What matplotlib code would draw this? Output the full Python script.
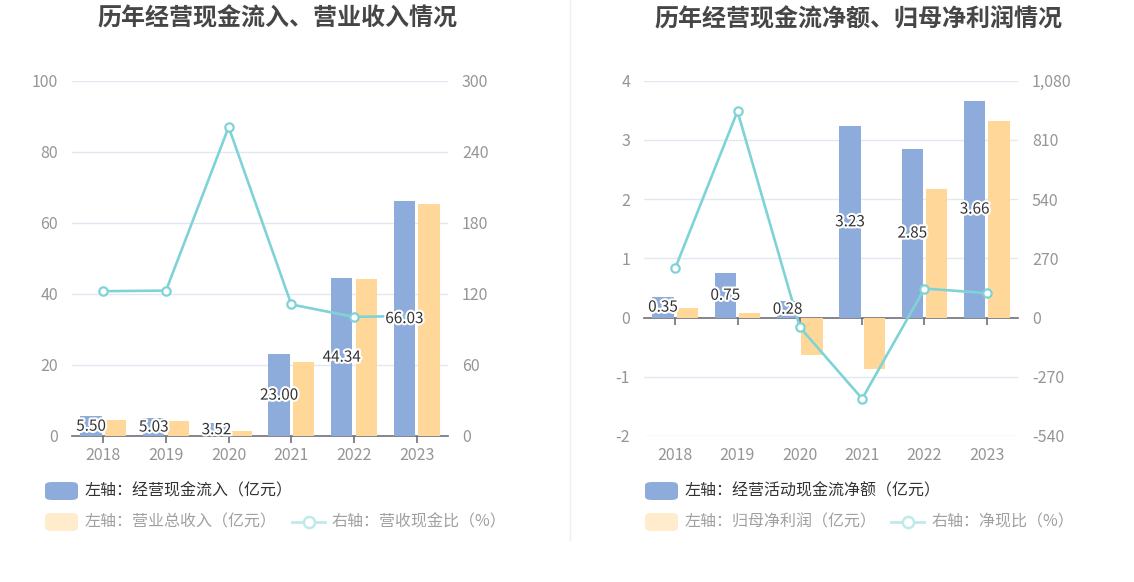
import numpy as np
import matplotlib
matplotlib.use('Agg')
import matplotlib.pyplot as plt
import matplotlib.patheffects as pe
from matplotlib.patches import FancyBboxPatch
from matplotlib.lines import Line2D
from matplotlib.ticker import FuncFormatter

plt.rcParams['font.family'] = ['Noto Sans CJK SC', 'DejaVu Sans']

years = ['2018', '2019', '2020', '2021', '2022', '2023']

# left chart: cash inflow, total revenue (亿元), ratio (%)
cash_in = [5.50, 5.03, 3.52, 23.00, 44.34, 66.03]
revenue = [4.50, 4.10, 1.35, 20.72, 44.12, 65.12]
rev_cash_ratio = [122.2, 122.7, 260.7, 111.0, 100.5, 101.4]

# right chart: net operating cash flow, net profit (亿元), ratio (%)
net_cash = [0.35, 0.75, 0.28, 3.23, 2.85, 3.66]
net_profit = [0.16, 0.08, -0.63, -0.87, 2.17, 3.32]
net_cash_ratio = [224, 940, -44, -370, 132, 111]

BLUE = '#8eacdb'
ORANGE = '#ffd899'
LINE = '#7fd3d7'
GRID = '#e3e7f1'
TICK = '#959595'
AXIS = '#6e7079'
LABEL_FX = [pe.withStroke(linewidth=3, foreground='white')]


def draw_panel(ax, bars1, bars2, ratio, ylim, yticks, rlim, rticks):
    x = np.arange(len(years))
    w = 0.34
    ax.bar(x - 0.195, bars1, w, color=BLUE, zorder=2)
    ax.bar(x + 0.195, bars2, w, color=ORANGE, zorder=2)

    ax.set_xlim(-0.5, len(years) - 0.5)
    ax.set_ylim(*ylim)
    ax.set_yticks(yticks)
    ax.set_yticklabels([str(t) for t in yticks])
    for t in yticks:
        if t != 0:
            ax.axhline(t, color=GRID, lw=1, zorder=0)
    for s in ax.spines.values():
        s.set_visible(False)
    ax.tick_params(axis='y', length=0, pad=10, labelsize=11.5, labelcolor=TICK)
    ax.set_xticks(x)
    ax.set_xticklabels(years)
    ax.tick_params(axis='x', length=0, pad=8, labelsize=11.5, labelcolor=TICK)

    # axis line at zero with small ticks
    loc = (0 - ylim[0]) / (ylim[1] - ylim[0])
    sec = ax.secondary_xaxis(loc)
    sec.spines['bottom'].set_color(AXIS)
    sec.spines['bottom'].set_linewidth(1.2)
    sec.set_xticks(x)
    sec.set_xticklabels([])
    sec.tick_params(axis='x', length=5, width=1.2, color=AXIS, direction='out')

    # ratio line on the right axis, drawn above the bars
    ax2 = ax.twinx()
    ax2.plot(x, ratio, color=LINE, lw=1.9, marker='o', markersize=6,
             markerfacecolor='white', markeredgecolor=LINE, markeredgewidth=1.6,
             zorder=5)
    ax2.set_ylim(*rlim)
    ax2.set_yticks(rticks)
    ax2.yaxis.set_major_formatter(FuncFormatter(lambda v, p: f'{v:,.0f}'))
    for s in ax2.spines.values():
        s.set_visible(False)
    ax2.tick_params(axis='y', length=0, pad=10, labelsize=11.5, labelcolor=TICK)
    ax2.set_zorder(ax.get_zorder() + 1)
    ax2.patch.set_visible(False)

    # value labels in the middle of the blue bars (on the top axes)
    for xi, v in zip(x, bars1):
        disp = ax.transData.transform((xi - 0.195, v / 2))
        xx, yy = ax2.transData.inverted().transform(disp)
        ax2.text(xx, yy, f'{v:.2f}', ha='center', va='center', fontsize=11,
                 color='#333333', zorder=10, path_effects=LABEL_FX)
    return ax2


fig = plt.figure(figsize=(11.34, 5.82), dpi=100)
W, H = 1134, 582

axl = fig.add_axes([72 / W, 1 - 436 / H, 376 / W, 355.5 / H])
axr = fig.add_axes([644 / W, 1 - 436 / H, 374 / W, 355.5 / H])

draw_panel(axl, cash_in, revenue, rev_cash_ratio, (0, 100),
           [0, 20, 40, 60, 80, 100], (0, 300), [0, 60, 120, 180, 240, 300])
draw_panel(axr, net_cash, net_profit, net_cash_ratio, (-2, 4),
           [-2, -1, 0, 1, 2, 3, 4], (-540, 1080),
           [-540, -270, 0, 270, 540, 810, 1080])

# titles
fig.text(277 / W, 1 - 18 / H, '历年经营现金流入、营业收入情况', ha='center', va='center',
         fontsize=17.3, fontweight='bold', color='#464646')
fig.text(858 / W, 1 - 18 / H, '历年经营现金流净额、归母净利润情况', ha='center', va='center',
         fontsize=17.3, fontweight='bold', color='#464646')

# divider
fig.add_artist(Line2D([570 / W, 570 / W], [1 - 540 / H, 1.0], color='#eeeeee', lw=1))


def legend_box(x, y, color):
    fig.add_artist(FancyBboxPatch((x / W, 1 - (y + 9) / H), 33 / W, 18 / H,
                                  boxstyle='round,pad=0,rounding_size=0.006',
                                  transform=fig.transFigure, color=color, lw=0))


def legend_line(x, y, color):
    fig.add_artist(Line2D([x / W, (x + 33) / W], [1 - y / H, 1 - y / H], color=color, lw=2))
    fig.add_artist(Line2D([(x + 16.5) / W], [1 - y / H], color=color, marker='o',
                          markersize=8, markerfacecolor='white', markeredgewidth=1.8))


def legend_text(x, y, s, color):
    fig.text(x / W, 1 - y / H, s, ha='left', va='center', fontsize=11.5, color=color)


r1, r2 = 491, 522
legend_box(45, r1, BLUE)
legend_text(85, r1, '左轴：经营现金流入（亿元）', '#333333')
legend_box(45, r2, '#ffeccc')
legend_text(85, r2, '左轴：营业总收入（亿元）', '#a0a0a0')
legend_line(292, r2, '#bfe9eb')
legend_text(332, r2, '右轴：营收现金比（%）', '#a0a0a0')

legend_box(645, r1, BLUE)
legend_text(685, r1, '左轴：经营活动现金流净额（亿元）', '#333333')
legend_box(645, r2, '#ffeccc')
legend_text(685, r2, '左轴：归母净利润（亿元）', '#a0a0a0')
legend_line(891, r2, '#bfe9eb')
legend_text(931, r2, '右轴：净现比（%）', '#a0a0a0')

fig.savefig('out.png', dpi=100, facecolor='white')
